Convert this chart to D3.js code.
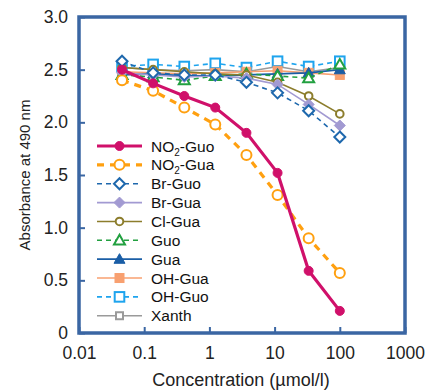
<!DOCTYPE html>
<html><head><meta charset="utf-8">
<script src="https://cdn.jsdelivr.net/npm/d3@7"></script>
<style>body{margin:0;background:#fff;} text{font-family:"Liberation Sans",Arial,sans-serif;}</style>
</head><body>
<svg id="c" width="434" height="390"></svg>
<script>
const conc = [0.0457, 0.137, 0.412, 1.23, 3.70, 11.1, 33.3, 100];
const seriesNames = ["NO2-Guo","NO2-Gua","Br-Guo","Br-Gua","Cl-Gua","Guo","Gua","OH-Gua","OH-Guo","Xanth"];
const NO2_Guo = [2.50, 2.37, 2.25, 2.14, 1.90, 1.52, 0.59, 0.21];
const NO2_Gua = [2.40, 2.30, 2.14, 1.98, 1.69, 1.31, 0.90, 0.57];
const Br_Guo  = [2.58, 2.47, 2.45, 2.45, 2.38, 2.28, 2.11, 1.86];
const Br_Gua  = [2.47, 2.45, 2.43, 2.44, 2.42, 2.36, 2.17, 1.97];
const Cl_Gua  = [2.52, 2.50, 2.48, 2.46, 2.45, 2.38, 2.25, 2.08];
const Guo     = [2.45, 2.43, 2.40, 2.44, 2.46, 2.44, 2.42, 2.55];
const Gua     = [2.45, 2.46, 2.44, 2.44, 2.45, 2.46, 2.47, 2.50];
const OH_Gua  = [2.48, 2.47, 2.46, 2.47, 2.48, 2.49, 2.47, 2.45];
const OH_Guo  = [2.53, 2.55, 2.53, 2.56, 2.52, 2.58, 2.53, 2.58];
const Xanth   = [2.52, 2.50, 2.49, 2.50, 2.48, 2.53, 2.48, 2.52];
const xTicks = [0.01, 0.1, 1, 10, 100, 1000];
const xTickLabels = ["0.01","0.1","1","10","100","1000"];
const yTicks = [0, 0.5, 1.0, 1.5, 2.0, 2.5, 3.0];
const yTickLabels = ["0","0.5","1.0","1.5","2.0","2.5","3.0"];

const values = [NO2_Guo, NO2_Gua, Br_Guo, Br_Gua, Cl_Gua, Guo, Gua, OH_Gua, OH_Guo, Xanth];
const styles = [
  {c:"#d0106a", w:3.2, dash:null, m:"circle", fill:true, r:4.5},
  {c:"#ffa010", w:3.2, dash:"7,6", m:"circle", fill:false, r:5},
  {c:"#1e68ad", w:1.6, dash:"5,4", m:"diamond", fill:false, r:5.5},
  {c:"#a29ad2", w:1.6, dash:null, m:"diamond", fill:true, r:5.5},
  {c:"#8c7d2c", w:1.6, dash:null, m:"circle", fill:false, r:3.8},
  {c:"#22a040", w:1.6, dash:"5,4", m:"triangle", fill:false, r:5.5},
  {c:"#1a5ea6", w:1.8, dash:null, m:"triangle", fill:true, r:5.5},
  {c:"#f8a070", w:1.6, dash:null, m:"square", fill:true, r:4.5},
  {c:"#1ea4ee", w:1.6, dash:"5,4", m:"square", fill:false, r:4.8},
  {c:"#9a9a9a", w:1.6, dash:null, m:"square", fill:false, r:3.5}
];
const labels = [["NO","2","-Guo"],["NO","2","-Gua"],["Br-Guo"],["Br-Gua"],["Cl-Gua"],["Guo"],["Gua"],["OH-Gua"],["OH-Guo"],["Xanth"]];

const L=79, R=405, T=17, B=333;
const x = d3.scaleLog().domain([0.01,1000]).range([L,R]);
const y = d3.scaleLinear().domain([0,3]).range([B,T]);
const svg = d3.select("#c");
const frameColor = "#3a66a3";

const gx = svg.append("g").attr("transform",`translate(0,${B})`)
  .call(d3.axisBottom(x).tickValues(xTicks).tickFormat((d,i)=>xTickLabels[i]).tickSizeInner(-6).tickSizeOuter(0).tickPadding(14));
gx.select(".domain").remove();
gx.selectAll("line").attr("stroke",frameColor).attr("stroke-width",2);
gx.selectAll("text").attr("font-size",17.5).attr("fill","#222").attr("font-family","Liberation Sans, Arial, sans-serif");

const gy = svg.append("g").attr("transform",`translate(${L},0)`)
  .call(d3.axisLeft(y).tickValues(yTicks).tickFormat((d,i)=>yTickLabels[i]).tickSizeInner(-6).tickSizeOuter(0).tickPadding(11));
gy.select(".domain").remove();
gy.selectAll("line").attr("stroke",frameColor).attr("stroke-width",2);
gy.selectAll("text").attr("font-size",17.5).attr("fill","#222").attr("font-family","Liberation Sans, Arial, sans-serif");

svg.append("rect").attr("x",L).attr("y",T).attr("width",R-L).attr("height",B-T)
  .attr("fill","none").attr("stroke",frameColor).attr("stroke-width",3.5);

function marker(g, type, cx, cy, r, st){
  let el;
  if(type==="circle") el = g.append("circle").attr("cx",cx).attr("cy",cy).attr("r",r);
  else if(type==="square") el = g.append("rect").attr("x",cx-r).attr("y",cy-r).attr("width",2*r).attr("height",2*r);
  else if(type==="diamond") el = g.append("path").attr("d",`M${cx},${cy-r}L${cx+r},${cy}L${cx},${cy+r}L${cx-r},${cy}Z`);
  else if(type==="triangle") el = g.append("path").attr("d",`M${cx},${cy-r}L${cx+r},${cy+r*0.75}L${cx-r},${cy+r*0.75}Z`);
  el.attr("fill", st.fill ? st.c : "#fff").attr("stroke",st.c).attr("stroke-width", st.fill?1:2);
}

const line = d3.line().x((d,i)=>x(conc[i])).y(d=>y(d));
for(let k=values.length-1;k>=0;k--){
  const st=styles[k];
  const g=svg.append("g");
  g.append("path").datum(values[k]).attr("d",line).attr("fill","none")
    .attr("stroke",st.c).attr("stroke-width",st.w).attr("stroke-dasharray",st.dash);
  values[k].forEach((v,i)=>marker(g, st.m, x(conc[i]), y(v), st.r, st));
}

const lx0=97, lx1=142, ly0=146, ldy=18.86;
labels.forEach((lab,k)=>{
  const st=styles[k], yy=ly0+k*ldy;
  const g=svg.append("g");
  g.append("line").attr("x1",lx0).attr("x2",lx1).attr("y1",yy).attr("y2",yy)
    .attr("stroke",st.c).attr("stroke-width",st.w).attr("stroke-dasharray",st.dash);
  marker(g, st.m, (lx0+lx1)/2, yy, st.r, st);
  const t=g.append("text").attr("x",151).attr("y",yy+5.5).attr("font-size",15.5).attr("fill","#111");
  if(lab.length===3){
    t.append("tspan").text(lab[0]);
    t.append("tspan").attr("font-size",10).attr("dy",4).text(lab[1]);
    t.append("tspan").attr("dy",-4).text(lab[2]);
  } else t.text(lab[0]);
});

svg.append("text").attr("x",241).attr("y",386).attr("text-anchor","middle")
  .attr("font-size",18).attr("fill","#222").text("Concentration (µmol/l)");
svg.append("text").attr("transform",`translate(30,${(T+B)/2}) rotate(-90)`).attr("text-anchor","middle")
  .attr("font-size",15).attr("fill","#222").text("Absorbance at 490 nm");
</script>
</body></html>
